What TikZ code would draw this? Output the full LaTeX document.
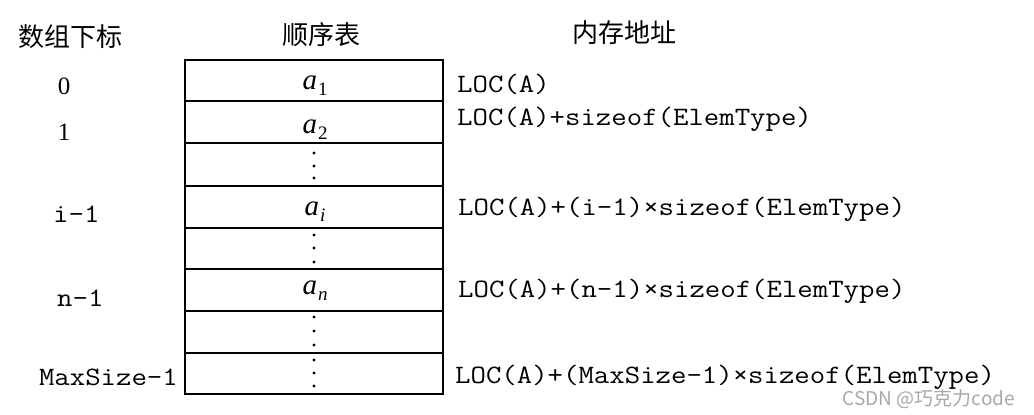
\documentclass[tikz,border=0pt]{standalone}
\usepackage{fontspec}
\usepackage{graphicx}
\newfontfamily\cjk{Noto Sans CJK SC}
\newfontfamily\timesf{Liberation Serif}
\newcommand{\monotext}[1]{{\fontsize{26.5}{28}\selectfont\ttfamily\scalebox{1.13}[1]{#1}}}
\newcommand{\elemsub}[1]{\textit{a}\kern1pt\raisebox{-6pt}{\fontsize{19}{20}\selectfont #1}}
\definecolor{wmgray}{HTML}{A8A8A8}
\tikzset{
  cell/.style={draw, line width=1.6pt, minimum width=258pt, inner sep=0pt, outer sep=0pt},
  head/.style={font={\cjk\fontsize{26}{28}\selectfont}, inner sep=0pt},
  idx/.style={inner sep=0pt, font={\timesf\fontsize{25}{26}\selectfont}},
  lbl/.style={inner sep=0pt},
  elem/.style={inner sep=0pt, anchor=base, font={\timesf\fontsize{29}{30}\selectfont}},
  dotmark/.style={fill=black},
  wmark/.style={inner sep=0pt, text=wmgray, font={\cjk\fontsize{19}{21}\selectfont}}
}
\begin{document}
\begin{tikzpicture}[x=1pt,y=-1pt]
\useasboundingbox (0,0) rectangle (1034,415);
% headings
\node[head] (h1) at (70,37) {数组下标};
\node[head] (h2) at (321,35) {顺序表};
\node[head] (h3) at (624,33) {内存地址};
% table rows
\node[cell, minimum height=41pt] (c1) at (314,80.5) {};
\node[cell, minimum height=42pt] (c2) at (314,122) {};
\node[cell, minimum height=43pt] (c3) at (314,164.5) {};
\node[cell, minimum height=42pt] (c4) at (314,207) {};
\node[cell, minimum height=41pt] (c5) at (314,248.5) {};
\node[cell, minimum height=42pt] (c6) at (314,290) {};
\node[cell, minimum height=42pt] (c7) at (314,332) {};
\node[cell, minimum height=41pt] (c8) at (314,373.5) {};
% cell contents
\node[elem] (e1) at (315,89) {\elemsub{1}};
\node[elem] (e2) at (315,133) {\elemsub{2}};
\node[elem] (e4) at (315,215) {\elemsub{\textit{i}}};
\node[elem] (e6) at (315,294) {\elemsub{\textit{n}}};
% vertical dots
\foreach \yy in {153,166,178, 235,248,262, 317,331,345, 360,373,386}
  \fill[dotmark] (314,\yy) circle (1.7);
% indices
\node[idx, anchor=base] (i0) at (64,94) {0};
\node[idx, anchor=base] (i1) at (64,140) {1};
\node[lbl, anchor=base west] (ii) at (53,222) {\monotext{i-1}};
\node[lbl, anchor=base west] (in) at (57,306) {\monotext{n-1}};
\node[lbl, anchor=base east] (im) at (178,385) {\monotext{MaxSize-1}};
% addresses
\node[lbl, anchor=base west] (a1) at (457,92) {\monotext{LOC(A)}};
\node[lbl, anchor=base west] (a2) at (457,125) {\monotext{LOC(A)+sizeof(ElemType)}};
\node[lbl, anchor=base west] (ai) at (458,215) {\monotext{LOC(A)+(i-1)×sizeof(ElemType)}};
\node[lbl, anchor=base west] (an) at (458,297) {\monotext{LOC(A)+(n-1)×sizeof(ElemType)}};
\node[lbl, anchor=base west] (am) at (455,383) {\monotext{LOC(A)+(MaxSize-1)×sizeof(ElemType)}};
% watermark
\node[wmark] (wm) at (929,399) {CSDN @巧克力code};
\end{tikzpicture}
\end{document}
